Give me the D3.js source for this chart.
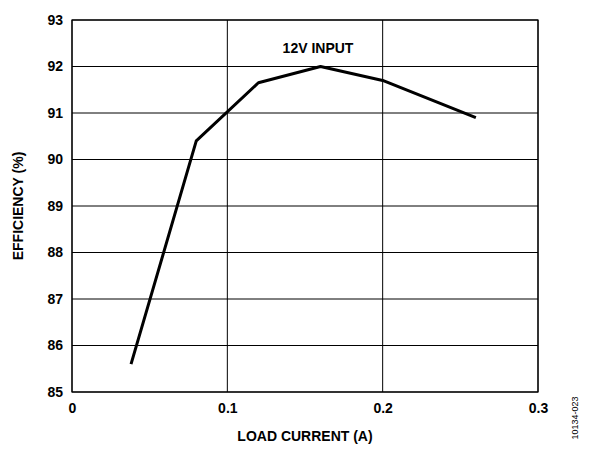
<!DOCTYPE html>
<html><head><meta charset="utf-8">
<script src="https://cdn.jsdelivr.net/npm/d3@7"></script>
<style>body{margin:0;background:#fff}text{font-family:"Liberation Sans",Arial,sans-serif;font-weight:bold;fill:#000}</style>
</head><body><svg id="c" width="593" height="452"></svg>
<script>
const loadCurrent=[0.038,0.08,0.12,0.16,0.2,0.26];
const efficiency=[85.6,90.4,91.65,92.0,91.7,90.9];
const xTicks=[0,0.1,0.2,0.3];
const yTicks=[85,86,87,88,89,90,91,92,93];
const svg=d3.select("#c");
const L=72,R=538,T=20,B=392;
const x=d3.scaleLinear().domain([0,0.3]).range([L,R]);
const y=d3.scaleLinear().domain([85,93]).range([B,T]);
const g=svg.append("g");
yTicks.forEach(v=>g.append("line").attr("x1",L).attr("x2",R).attr("y1",y(v)).attr("y2",y(v)).attr("stroke","#000").attr("stroke-width",1));
xTicks.forEach(v=>g.append("line").attr("x1",x(v)).attr("x2",x(v)).attr("y1",T).attr("y2",B).attr("stroke","#000").attr("stroke-width",1));
g.append("rect").attr("x",L).attr("y",T).attr("width",R-L).attr("height",B-T).attr("fill","none").attr("stroke","#000").attr("stroke-width",1.2);
const xa=svg.append("g").attr("transform",`translate(0,${B})`).call(d3.axisBottom(x).tickValues(xTicks).tickFormat(d=>d===0?"0":d3.format(".1f")(d)).tickSize(0).tickPadding(11));
const ya=svg.append("g").attr("transform",`translate(${L},0)`).call(d3.axisLeft(y).tickValues(yTicks).tickSize(0).tickPadding(9));
[xa,ya].forEach(a=>{a.select(".domain").remove();a.selectAll("text").style("font-size","14px").style("font-family","Liberation Sans").style("font-weight","bold");});
svg.append("path").datum(loadCurrent.map((c,i)=>[c,efficiency[i]]))
 .attr("d",d3.line().x(d=>x(d[0])).y(d=>y(d[1]))).attr("fill","none").attr("stroke","#000").attr("stroke-width",3).attr("stroke-linejoin","round");
svg.append("text").attr("x",318).attr("y",53).attr("text-anchor","middle").style("font-size","14px").text("12V INPUT");
svg.append("text").attr("x",305).attr("y",441).attr("text-anchor","middle").style("font-size","14px").text("LOAD CURRENT (A)");
svg.append("text").attr("transform","translate(23,206) rotate(-90)").attr("text-anchor","middle").style("font-size","14px").text("EFFICIENCY (%)");
svg.append("text").attr("transform","translate(578,418) rotate(-90)").attr("text-anchor","middle").style("font-size","9px").style("font-weight","normal").text("10134-023");
</script></body></html>
